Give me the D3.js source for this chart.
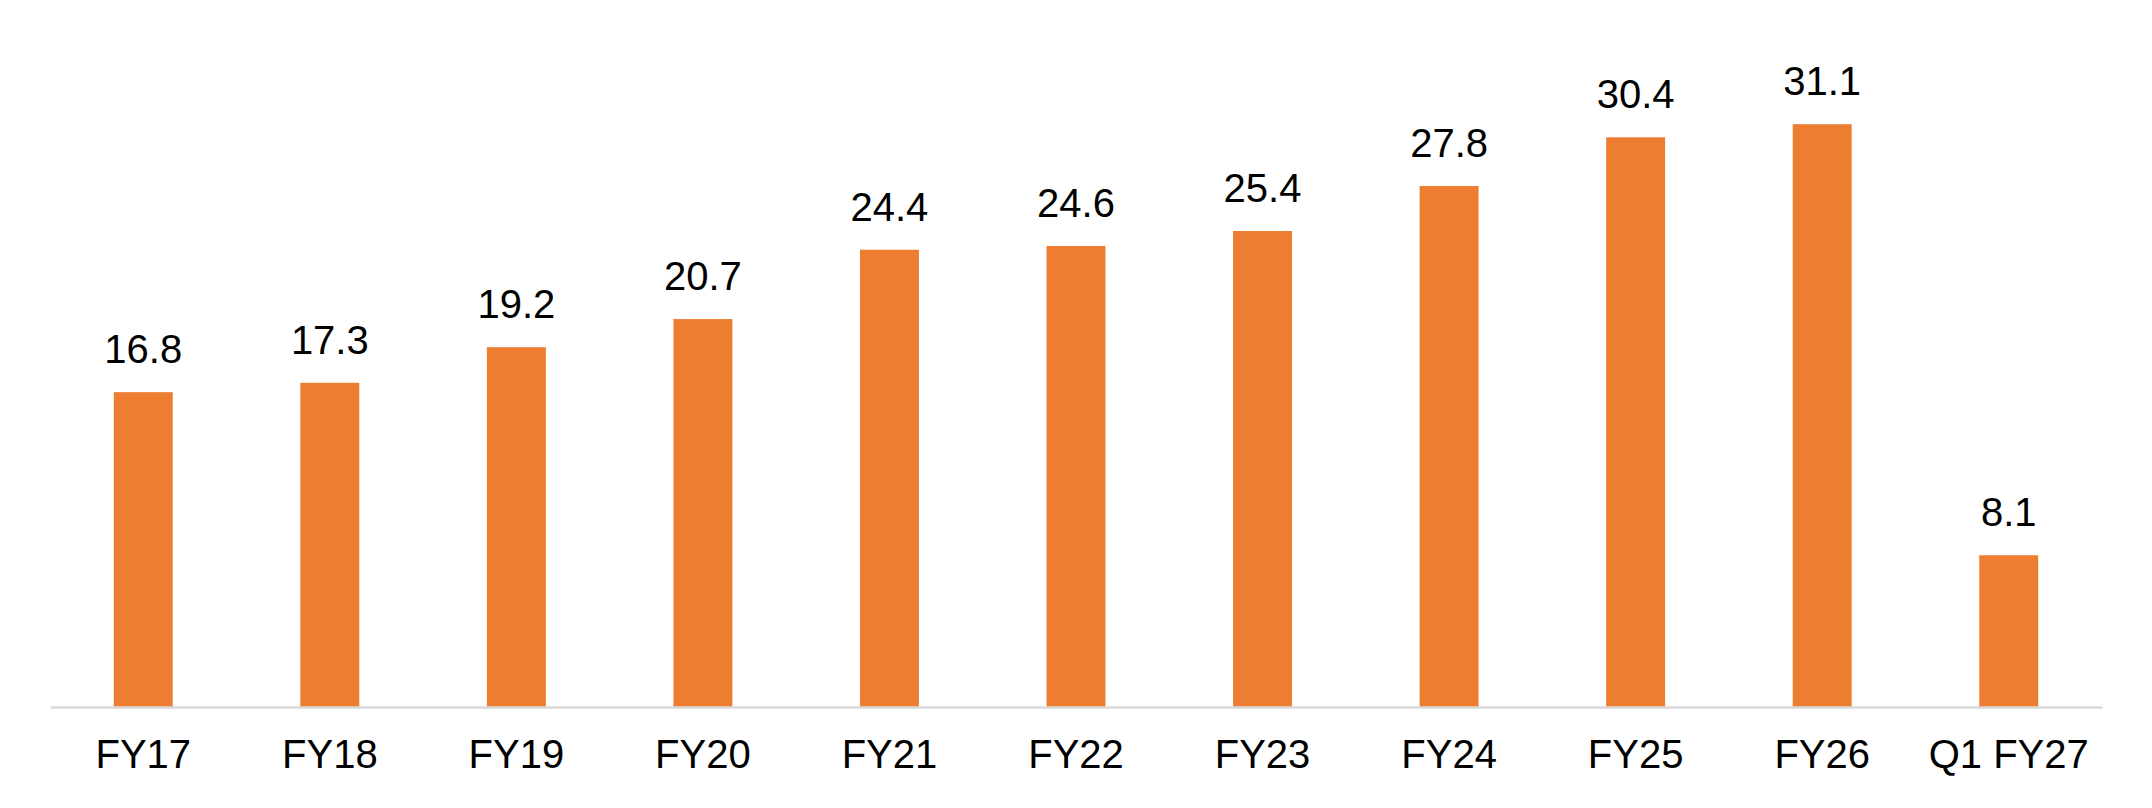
<!DOCTYPE html>
<html>
<head>
<meta charset="utf-8">
<script src="https://cdn.jsdelivr.net/npm/d3@7"></script>
<style>
html, body { margin: 0; padding: 0; background: #fff; }
svg { display: block; }
text { font-family: "Liberation Sans", Arial, sans-serif; fill: #000; }
</style>
</head>
<body>
<svg id="chart" width="2152" height="808"></svg>
<script>
const categories = ["FY17", "FY18", "FY19", "FY20", "FY21", "FY22", "FY23", "FY24", "FY25", "FY26", "Q1 FY27"];
const values = [16.8, 17.3, 19.2, 20.7, 24.4, 24.6, 25.4, 27.8, 30.4, 31.1, 8.1];
const valueLabels = ["16.8", "17.3", "19.2", "20.7", "24.4", "24.6", "25.4", "27.8", "30.4", "31.1", "8.1"];

const svg = d3.select("#chart");
const baseY = 707;
const left = 50, right = 2102;

const x = d3.scaleBand().domain(categories).range([left, right]).paddingInner(0.684).paddingOuter(0.342);
const y = d3.scaleLinear().domain([0, 35]).range([baseY, baseY - 35 * 18.74]);

const data = categories.map((c, i) => ({ c, v: values[i], l: valueLabels[i] }));

svg.selectAll("rect.bar").data(data).enter().append("rect")
  .attr("class", "bar")
  .attr("x", d => x(d.c))
  .attr("y", d => y(d.v))
  .attr("width", x.bandwidth())
  .attr("height", d => y(0) - y(d.v))
  .attr("fill", "#ED7D31");

// axis
const xAxis = d3.axisBottom(x).tickSize(0).tickPadding(0);
const g = svg.append("g").attr("transform", `translate(0,${baseY})`).call(xAxis);
g.select(".domain").attr("stroke", "#d9d9d9").attr("stroke-width", 2.5);
g.selectAll(".tick text")
  .attr("y", 61)
  .attr("dy", null)
  .style("font-size", "40px")
  .style("font-family", "'Liberation Sans', Arial, sans-serif")
  .attr("fill", "#000");

svg.selectAll("text.val").data(data).enter().append("text")
  .attr("class", "val")
  .attr("x", d => x(d.c) + x.bandwidth() / 2)
  .attr("y", d => y(d.v) - 29)
  .attr("text-anchor", "middle")
  .style("font-size", "40px")
  .text(d => d.l);
</script>
</body>
</html>
